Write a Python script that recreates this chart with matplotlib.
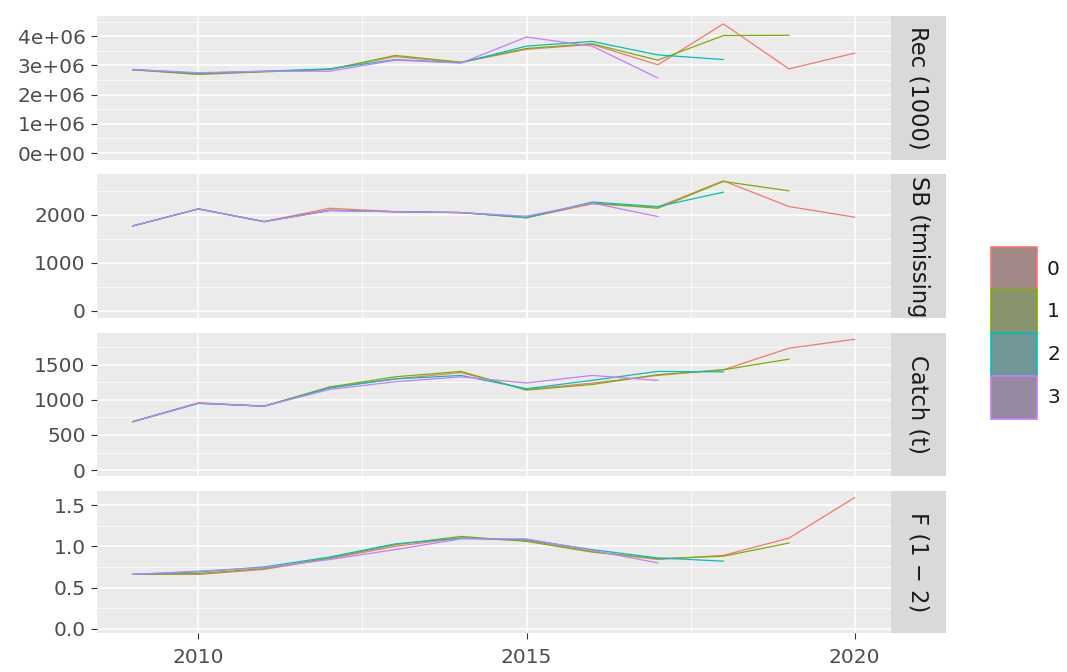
import matplotlib
matplotlib.use("Agg")
import matplotlib.pyplot as plt
import numpy as np
from matplotlib.patches import Patch
from matplotlib.ticker import MultipleLocator, FuncFormatter, FormatStrFormatter

# retrospective peels 0-3, each one year shorter than the last
years = np.arange(2009, 2021)
peels = ["0", "1", "2", "3"]
colors = ["#F8766D", "#7CAE00", "#00BFC4", "#C77CFF"]

rec = [
    [2.85e6, 2.71e6, 2.79e6, 2.87e6, 3.30e6, 3.10e6, 3.55e6, 3.72e6, 3.02e6, 4.42e6, 2.88e6, 3.42e6],
    [2.85e6, 2.69e6, 2.78e6, 2.86e6, 3.34e6, 3.11e6, 3.58e6, 3.74e6, 3.18e6, 4.02e6, 4.03e6],
    [2.86e6, 2.73e6, 2.80e6, 2.88e6, 3.20e6, 3.09e6, 3.66e6, 3.82e6, 3.36e6, 3.20e6],
    [2.86e6, 2.75e6, 2.80e6, 2.80e6, 3.18e6, 3.08e6, 3.97e6, 3.66e6, 2.57e6],
]
sb = [
    [1770, 2127, 1862, 2140, 2070, 2050, 1950, 2230, 2165, 2713, 2176, 1954],
    [1770, 2125, 1862, 2100, 2068, 2050, 1940, 2250, 2140, 2700, 2504],
    [1772, 2127, 1860, 2095, 2068, 2050, 1945, 2270, 2175, 2476],
    [1772, 2127, 1862, 2090, 2068, 2050, 1975, 2250, 1967],
]
catch = [
    [690, 960, 911, 1180, 1300, 1390, 1150, 1240, 1350, 1430, 1738, 1865],
    [690, 955, 911, 1185, 1330, 1407, 1140, 1220, 1360, 1430, 1582],
    [690, 950, 911, 1170, 1300, 1350, 1160, 1280, 1407, 1400],
    [690, 955, 911, 1150, 1260, 1330, 1242, 1350, 1279],
]
fbar = [
    [0.66, 0.66, 0.72, 0.85, 1.00, 1.10, 1.07, 0.94, 0.84, 0.89, 1.10, 1.59],
    [0.66, 0.67, 0.73, 0.86, 1.02, 1.12, 1.06, 0.93, 0.85, 0.88, 1.04],
    [0.66, 0.69, 0.75, 0.87, 1.03, 1.10, 1.08, 0.96, 0.86, 0.82],
    [0.66, 0.70, 0.74, 0.84, 0.96, 1.09, 1.09, 0.95, 0.80],
]
strip_labels = ["Rec (1000)", "SB (tmissing)", "Catch (t)", "F (1 \u2212 2)"]

W, H = 1067, 672
fig = plt.figure(figsize=(W / 100, H / 100), dpi=100)
plt.rcParams["font.family"] = "DejaVu Sans"

# panel rows in pixels (top, bottom)
rows = [(16, 159.5), (174, 318), (333, 476), (491, 633)]
left, right, strip_r = 96.7, 890.7, 946

panels = [
    (rec, (-0.22e6, 4.69e6), 1e6, FuncFormatter(lambda v, p: f"{v:.0e}")),
    (sb, (-150, 2855), 1000, FormatStrFormatter("%d")),
    (catch, (-85, 1955), 500, FormatStrFormatter("%d")),
    (fbar, (-0.05, 1.67), 0.5, FormatStrFormatter("%.1f")),
]

for i, ((data, ylim, step, fmt), (top, bot)) in enumerate(zip(panels, rows)):
    ax = fig.add_axes([left / W, 1 - bot / H, (right - left) / W, (bot - top) / H])
    ax.set_facecolor("#EBEBEB")
    for s in ax.spines.values():
        s.set_visible(False)
    for k, series in enumerate(data):
        ax.plot(years[:len(series)], series, color=colors[k], lw=0.9, zorder=3)
    ax.set_xlim(2008.45, 2020.55)
    ax.set_ylim(*ylim)
    ax.xaxis.set_major_locator(MultipleLocator(5))
    ax.xaxis.set_minor_locator(MultipleLocator(2.5))
    ax.yaxis.set_major_locator(MultipleLocator(step))
    ax.yaxis.set_minor_locator(MultipleLocator(step / 2))
    ax.yaxis.set_major_formatter(fmt)
    ax.grid(which="major", color="white", lw=1.1)
    ax.grid(which="minor", color="white", lw=0.55)
    ax.set_axisbelow(True)
    ax.tick_params(which="minor", length=0)
    ax.tick_params(which="major", length=4.5, width=0.8, color="#333333",
                   labelcolor="#4D4D4D", labelsize=14.5, pad=3.5)
    ax.tick_params(axis="x", which="major", pad=6)
    if i < 3:
        ax.tick_params(axis="x", which="major", length=0, labelbottom=False)

    # facet strip on the right
    sx = fig.add_axes([right / W, 1 - bot / H, (strip_r - right) / W, (bot - top) / H])
    sx.set_facecolor("#D9D9D9")
    sx.set_xticks([])
    sx.set_yticks([])
    for s in sx.spines.values():
        s.set_visible(False)
    lab = strip_labels[i]
    if len(lab) > 12:
        t = sx.text(0.5, 0.985, lab, rotation=-90, ha="center", va="top",
                    fontsize=16.3, color="#1A1A1A", transform=sx.transAxes, clip_on=True)
    else:
        t = sx.text(0.5, 0.5, lab, rotation=-90, ha="center", va="center",
                    fontsize=16.3, color="#1A1A1A", transform=sx.transAxes, clip_on=True)
    t.set_clip_box(sx.bbox)

gray = np.array([0.55, 0.55, 0.55])
handles = []
for c in colors:
    rgb = np.array(matplotlib.colors.to_rgb(c))
    handles.append(Patch(facecolor=0.2 * rgb + 0.8 * gray, edgecolor=c, lw=1.2))

fig.legend(handles, peels, loc="center left", bbox_to_anchor=(990.7 / W, 1 - 333 / H),
           frameon=False, fontsize=14.5, handlelength=2.3, handleheight=2.9,
           labelspacing=0, handletextpad=0.5, borderpad=0, borderaxespad=0,
           labelcolor="#1A1A1A")

fig.savefig("out.png", dpi=100)
